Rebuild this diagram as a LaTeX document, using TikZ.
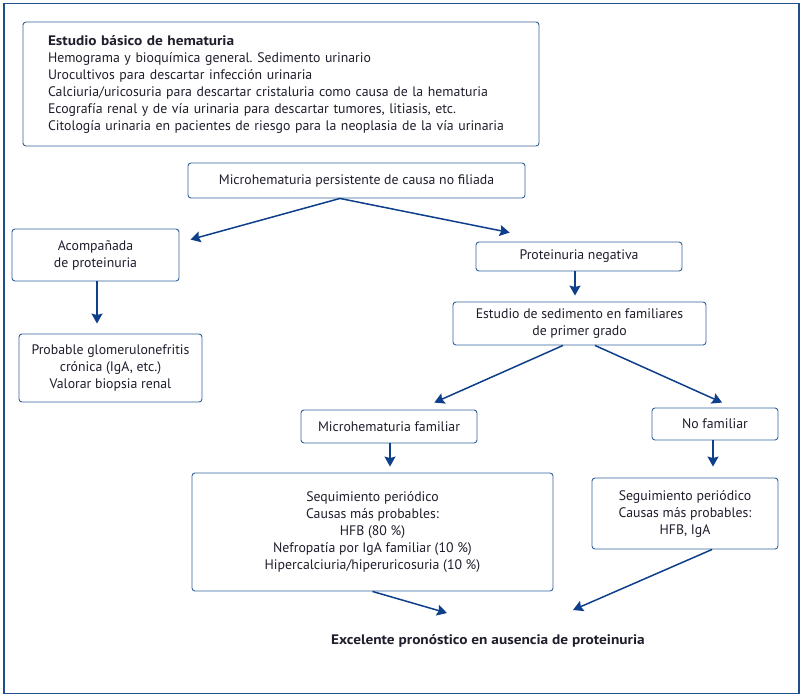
\documentclass[tikz,border=0pt]{standalone}
\usepackage{fontspec}
\setmainfont{PT Sans}[BoldFeatures={FakeStretch=1.11}]
\usetikzlibrary{arrows.meta,calc}
\definecolor{frameblue}{HTML}{1F4E8C}
\definecolor{boxblue}{HTML}{33609C}
\definecolor{arrowblue}{HTML}{0D3F8A}
\definecolor{txt}{HTML}{1E1E2C}
\tikzset{
  box/.style={draw=boxblue, line width=0.9pt, rounded corners=3pt, align=center,
    text=txt, inner sep=2pt, font=\fontsize{13.8}{17}\selectfont},
  arr/.style={draw=arrowblue, line width=1.5pt,
    -{Stealth[length=10pt,width=11pt,inset=1.5pt]}},
}
\frenchspacing
\begin{document}
\begin{tikzpicture}[x=1pt,y=-1pt]
\useasboundingbox (0,0) rectangle (804,697);
\draw[frameblue, line width=1.2pt] (4,3.5) rectangle (799,693.5);

\node[box, minimum width=516pt, minimum height=124pt, text width=466pt, inner xsep=25pt, align=left] (top) at (281,84)
 {\textbf{Estudio básico de hematuria}\\
  Hemograma y bioquímica general. Sedimento urinario\\
  Urocultivos para descartar infección urinaria\\
  Calciuria/uricosuria para descartar cristaluria como causa de la hematuria\\
  Ecografía renal y de vía urinaria para descartar tumores, litiasis, etc.\\
  Citología urinaria en pacientes de riesgo para la neoplasia de la vía urinaria};

\node[box, minimum width=337pt, minimum height=35pt] (micro) at (356.5,180.5) {Microhematuria persistente de causa no filiada};
\node[box, minimum width=167pt, minimum height=52pt] (acomp) at (95.5,255) {Acompañada\\de proteinuria};
\node[box, minimum width=183pt, minimum height=68pt] (prob) at (110.5,368) {Probable glomerulonefritis\\crónica (IgA, etc.)\\Valorar biopsia renal};
\node[box, minimum width=206pt, minimum height=29pt] (neg) at (579,256.5) {Proteinuria negativa};
\node[box, minimum width=253pt, minimum height=43pt] (sed) at (579.5,323.5) {Estudio de sedimento en familiares\\de primer grado};
\node[box, minimum width=176pt, minimum height=33pt] (mfam) at (389,426.5) {Microhematuria familiar};
\node[box, minimum width=126pt, minimum height=32pt] (nofam) at (715,424) {No familiar};
\node[box, minimum width=361pt, minimum height=118pt] (segA) at (372.5,532) {Sequimiento periódico\\Causas más probables:\\HFB (80 \%)\\Nefropatía por IgA familiar (10 \%)\\Hipercalciuria/hiperuricosuria (10 \%)};
\node[box, minimum width=186pt, minimum height=71pt] (segB) at (685,513.5) {Seguimiento periódico\\Causas más probables:\\HFB, IgA};
\node[text=txt, font=\fontsize{13.8}{17}\selectfont\bfseries] (final) at (488,641) {Excelente pronóstico en ausencia de proteinuria};

\coordinate (mstart) at ($(micro.south west)!0.451!(micro.south east)$);
\draw[arr] (mstart) -- ($(acomp.north east)+(11,11)$);
\draw[arr] (mstart) -- ($(neg.north west)!0.165!(neg.north east)+(0,-9)$);
\draw[arr] ($(acomp.south)+(1.5,0)$) -- ($(prob.north -| acomp.south)+(1.5,-10)$);
\draw[arr] ($(neg.south)+(-4,0)$) -- ($(sed.north -| neg.south)+(-4,-6)$);
\draw[arr] ($(sed.south west)!0.435!(sed.south east)$) -- ($(mfam.north west)!0.756!(mfam.north east)+(0,-7)$);
\draw[arr] ($(sed.south west)!0.561!(sed.south east)$) -- ($(nofam.north west)!0.556!(nofam.north east)+(0,-5)$);
\draw[arr] ($(mfam.south)+(1,0)$) -- ($(segA.north -| mfam.south)+(1,-6)$);
\draw[arr] ($(nofam.south)+(-2,0)$) -- ($(segB.north -| nofam.south)+(-2,-11)$);
\draw[arr] (segA.south) -- ($(final.center)+(-41,-28)$);
\draw[arr] ($(segB.south west)!0.645!(segB.south east)$) -- ($(final.center)+(85,-31)$);
\end{tikzpicture}
\end{document}
